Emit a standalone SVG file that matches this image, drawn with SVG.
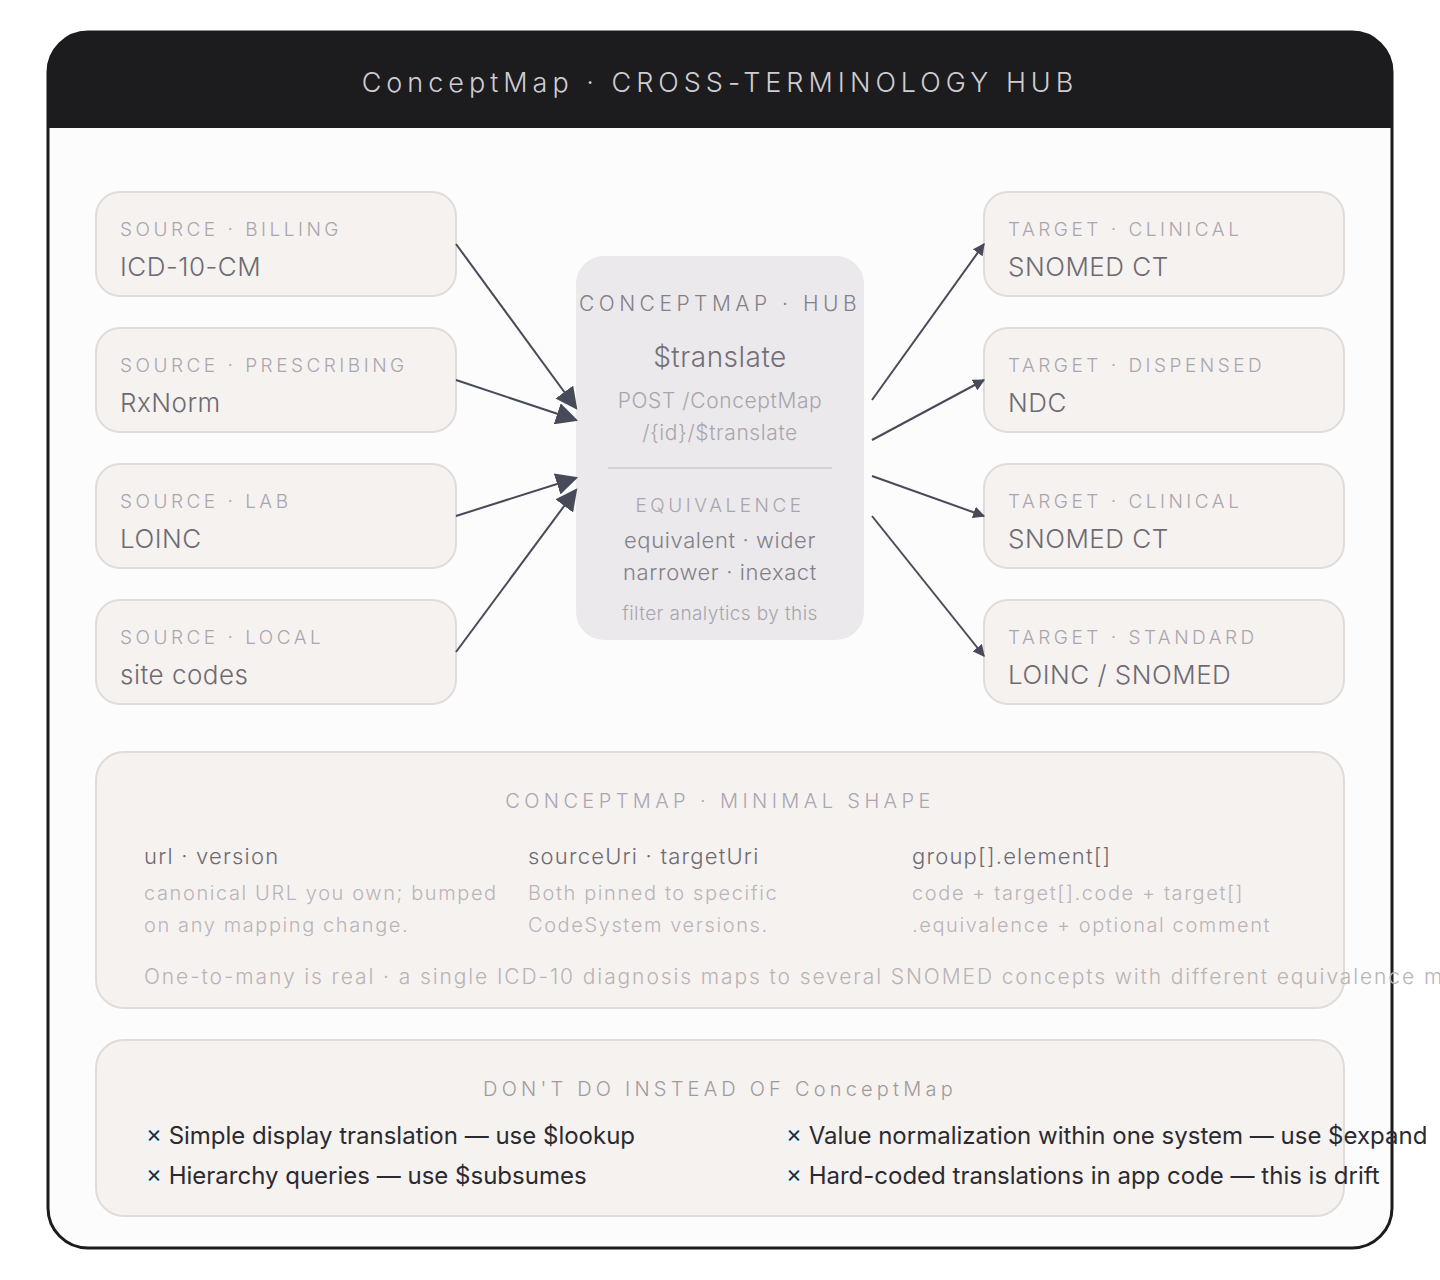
<svg xmlns="http://www.w3.org/2000/svg" width="1440" height="1280" viewBox="0 0 1440 1280">
<style>
text{font-family:Inter,"Liberation Sans",sans-serif;font-weight:300}
.card{fill:#f6f2ef;stroke:#e2dcd9;stroke-width:2}
.lab{font-size:19px;letter-spacing:3.5px;fill:#aba5af}
.main{font-size:26px;fill:#6e6a74;letter-spacing:0.5px}
.conn line{stroke:#474a58;stroke-width:2}
.h{font-size:22px;fill:#6e6a74;letter-spacing:1.2px}
.d{font-size:20px;fill:#bab4ba;letter-spacing:1.6px}
.x{font-size:24px;fill:#2a2a30;font-weight:400}
</style>
<defs><marker id="ar" viewBox="0 0 10 10" refX="9" refY="5" markerWidth="12" markerHeight="12" markerUnits="userSpaceOnUse" orient="auto"><path d="M0,0L10,5L0,10z" fill="#474a58"/></marker>
<marker id="arB" viewBox="0 0 10 10" refX="9" refY="5" markerWidth="22" markerHeight="22" markerUnits="userSpaceOnUse" orient="auto"><path d="M0,0L10,5L0,10z" fill="#474a58"/></marker></defs>
<rect width="1440" height="1280" fill="#fff"/>
<g id="frame">
<rect x="48" y="32" width="1344" height="1216" rx="40" fill="#fcfcfd" stroke="#1c1b1e" stroke-width="3"/>
<path d="M48,128V72a40,40 0 0 1 40,-40H1352a40,40 0 0 1 40,40V128z" fill="#1c1b1e"/>
<text x="720" y="92" text-anchor="middle" font-size="27" letter-spacing="5" fill="#cfcdd2">ConceptMap · CROSS-TERMINOLOGY HUB</text>
</g>
<g id="s1"><rect class="card" x="96" y="192" width="360" height="104" rx="24"/><text class="lab" x="120" y="236">SOURCE · BILLING</text><text class="main" x="120" y="276">ICD-10-CM</text></g>
<g id="s2"><rect class="card" x="96" y="328" width="360" height="104" rx="24"/><text class="lab" x="120" y="372">SOURCE · PRESCRIBING</text><text class="main" x="120" y="412">RxNorm</text></g>
<g id="s3"><rect class="card" x="96" y="464" width="360" height="104" rx="24"/><text class="lab" x="120" y="508">SOURCE · LAB</text><text class="main" x="120" y="548">LOINC</text></g>
<g id="s4"><rect class="card" x="96" y="600" width="360" height="104" rx="24"/><text class="lab" x="120" y="644">SOURCE · LOCAL</text><text class="main" x="120" y="684">site codes</text></g>
<g id="t1"><rect class="card" x="984" y="192" width="360" height="104" rx="24"/><text class="lab" x="1008" y="236">TARGET · CLINICAL</text><text class="main" x="1008" y="276">SNOMED CT</text></g>
<g id="t2"><rect class="card" x="984" y="328" width="360" height="104" rx="24"/><text class="lab" x="1008" y="372">TARGET · DISPENSED</text><text class="main" x="1008" y="412">NDC</text></g>
<g id="t3"><rect class="card" x="984" y="464" width="360" height="104" rx="24"/><text class="lab" x="1008" y="508">TARGET · CLINICAL</text><text class="main" x="1008" y="548">SNOMED CT</text></g>
<g id="t4"><rect class="card" x="984" y="600" width="360" height="104" rx="24"/><text class="lab" x="1008" y="644">TARGET · STANDARD</text><text class="main" x="1008" y="684">LOINC / SNOMED</text></g>
<g id="hub">
<rect x="576" y="256" width="288" height="384" rx="28" fill="#ebe9ec"/>
<text x="720" y="311" text-anchor="middle" font-size="21" letter-spacing="4.5" fill="#858088">CONCEPTMAP · HUB</text>
<text x="720" y="367" text-anchor="middle" font-size="28" letter-spacing="0.5" fill="#747078">$translate</text>
<text x="720" y="408" text-anchor="middle" font-size="21" letter-spacing="0.6" fill="#aaa5ad">POST /ConceptMap</text>
<text x="720" y="440" text-anchor="middle" font-size="21" letter-spacing="0.6" fill="#aaa5ad">/{id}/$translate</text>
<line x1="608" y1="468" x2="832" y2="468" stroke="#d6d3d6" stroke-width="2"/>
<text x="720" y="512" text-anchor="middle" font-size="19" letter-spacing="3.5" fill="#aaa5ad">EQUIVALENCE</text>
<text x="720" y="548" text-anchor="middle" font-size="22" letter-spacing="0.6" fill="#858088">equivalent · wider</text>
<text x="720" y="580" text-anchor="middle" font-size="22" letter-spacing="0.6" fill="#858088">narrower · inexact</text>
<text x="720" y="620" text-anchor="middle" font-size="19" letter-spacing="0.4" fill="#aaa5ad">filter analytics by this</text>
</g>
<g class="conn" id="connectors">
<line x1="456" y1="244" x2="576" y2="408" marker-end="url(#arB)"/>
<line x1="456" y1="380" x2="576" y2="420" marker-end="url(#arB)"/>
<line x1="456" y1="516" x2="576" y2="478" marker-end="url(#arB)"/>
<line x1="456" y1="652" x2="576" y2="490" marker-end="url(#arB)"/>
<line x1="872" y1="400" x2="984" y2="244" marker-end="url(#ar)"/>
<line x1="872" y1="440" x2="984" y2="380" marker-end="url(#ar)"/>
<line x1="872" y1="476" x2="984" y2="516" marker-end="url(#ar)"/>
<line x1="872" y1="516" x2="984" y2="656" marker-end="url(#ar)"/>
</g>
<g id="shape">
<rect class="card" x="96" y="752" width="1248" height="256" rx="28"/>
<text x="720" y="808" text-anchor="middle" font-size="20" letter-spacing="4.4" fill="#aaa5b3">CONCEPTMAP · MINIMAL SHAPE</text>
<text class="h" x="144" y="864">url · version</text>
<text class="d" x="144" y="900">canonical URL you own; bumped</text>
<text class="d" x="144" y="932">on any mapping change.</text>
<text class="h" x="528" y="864">sourceUri · targetUri</text>
<text class="d" x="528" y="900">Both pinned to specific</text>
<text class="d" x="528" y="932">CodeSystem versions.</text>
<text class="h" x="912" y="864">group[].element[]</text>
<text class="d" x="912" y="900">code + target[].code + target[]</text>
<text class="d" x="912" y="932">.equivalence + optional comment</text>
<text x="144" y="984" font-size="21" letter-spacing="1.9" fill="#b9b3b6">One-to-many is real · a single ICD-10 diagnosis maps to several SNOMED concepts with different equivalence m</text>
</g>
<g id="dont">
<rect class="card" x="96" y="1040" width="1248" height="176" rx="28"/>
<text x="720" y="1096" text-anchor="middle" font-size="20" letter-spacing="4.2" fill="#a09aa0">DON'T DO INSTEAD OF ConceptMap</text>
<text class="x" x="146" y="1144">× Simple display translation — use $lookup</text>
<text class="x" x="146" y="1184">× Hierarchy queries — use $subsumes</text>
<text class="x" x="786" y="1144">× Value normalization within one system — use $expand</text>
<text class="x" x="786" y="1184">× Hard-coded translations in app code — this is drift</text>
</g>
</svg>
